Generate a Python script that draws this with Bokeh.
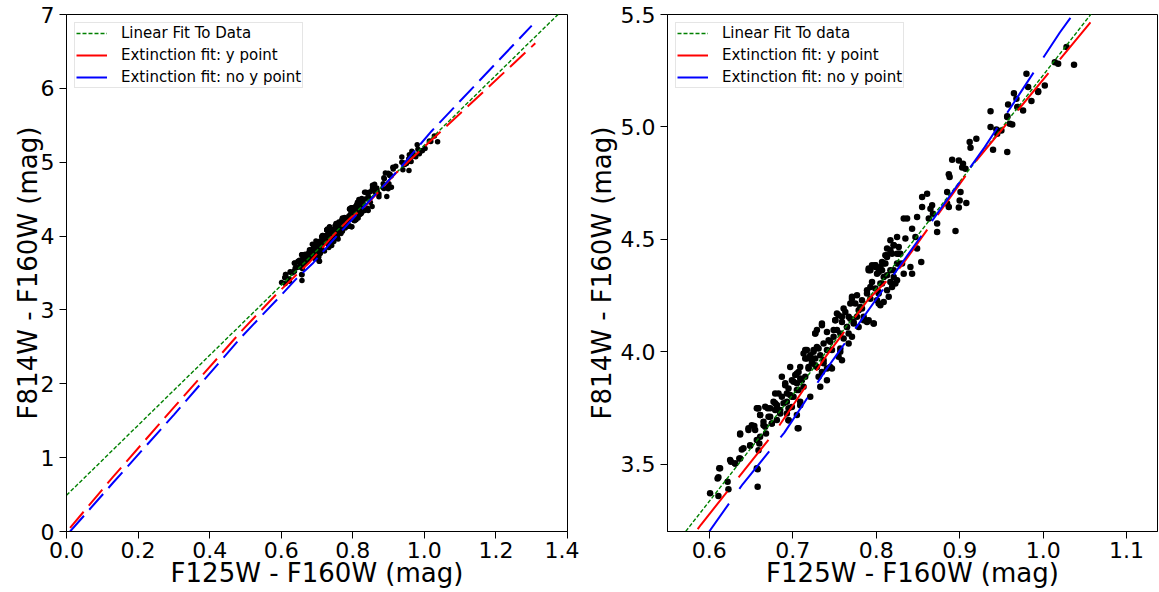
from bokeh.plotting import figure
from bokeh.layouts import row
from bokeh.models import FixedTicker, NumeralTickFormatter, Legend, LegendItem, Range1d
from bokeh.embed import file_html
from bokeh.resources import INLINE

# ---------------- data ----------------
pts = [
    (0.601, 3.370), (0.611, 3.358), (0.612, 3.481), (0.610, 3.436), (0.622, 3.421), (0.623, 3.388),
    (0.626, 3.510), (0.631, 3.503), (0.637, 3.632), (0.639, 3.565), (0.636, 3.525), (0.647, 3.659),
    (0.649, 3.581), (0.654, 3.669), (0.658, 3.477), (0.658, 3.399), (0.658, 3.748), (0.661, 3.718),
    (0.660, 3.592), (0.659, 3.562), (0.665, 3.673), (0.668, 3.636), (0.670, 3.748), (0.673, 3.710),
    (0.675, 3.681), (0.677, 3.777), (0.681, 3.762), (0.685, 3.740), (0.695, 3.748), (0.693, 3.725),
    (0.705, 3.718), (0.706, 3.659), (0.695, 3.695), (0.699, 3.754), (0.709, 3.777),
    (0.657, 3.748), (0.667, 3.755), (0.679, 3.814), (0.681, 3.762), (0.689, 3.770), (0.691, 3.851),
    (0.693, 3.814), (0.699, 3.799), (0.701, 3.866), (0.707, 3.829), (0.709, 3.762), (0.711, 3.873),
    (0.721, 3.799), (0.715, 4.007), (0.717, 3.970), (0.719, 3.925), (0.723, 3.962), (0.725, 4.007),
    (0.727, 3.940), (0.729, 4.021), (0.731, 3.888), (0.733, 3.844), (0.727, 4.081), (0.735, 4.125),
    (0.737, 3.962), (0.741, 3.925), (0.741, 3.873), (0.745, 3.932), (0.747, 4.007), (0.749, 4.096),
    (0.751, 4.140), (0.753, 4.170), (0.755, 3.977), (0.757, 4.081), (0.759, 4.155), (0.761, 4.192),
    (0.765, 4.110), (0.767, 4.155), (0.769, 4.214), (0.771, 4.236), (0.773, 4.132), (0.777, 4.251),
    (0.779, 4.184), (0.785, 4.155), (0.787, 4.140), (0.791, 4.140), (0.797, 4.125), (0.789, 4.273),
    (0.791, 4.362), (0.793, 4.288), (0.795, 4.310), (0.799, 4.384), (0.801, 4.229), (0.803, 4.214),
    (0.803, 4.266), (0.805, 4.303), (0.807, 4.362), (0.809, 4.332), (0.811, 4.392), (0.813, 4.421),
    (0.815, 4.244), (0.817, 4.362), (0.819, 4.288), (0.821, 4.332), (0.823, 4.303), (0.825, 4.392),
    (0.827, 4.436), (0.729, 4.096), (0.721, 3.977), (0.713, 3.992), (0.709, 3.932), (0.705, 3.903),
    (0.697, 3.932), (0.687, 3.888), (0.743, 4.051), (0.757, 4.014), (0.761, 4.059), (0.767, 4.036),
    (0.781, 4.199), (0.783, 4.229),
    (0.793, 4.362), (0.799, 4.384), (0.801, 4.347), (0.805, 4.377), (0.807, 4.399), (0.811, 4.429),
    (0.813, 4.459), (0.817, 4.496), (0.819, 4.436), (0.821, 4.473), (0.825, 4.510), (0.827, 4.466),
    (0.829, 4.436), (0.831, 4.392), (0.833, 4.347), (0.835, 4.503), (0.841, 4.377), (0.843, 4.347),
    (0.847, 4.510), (0.849, 4.459), (0.854, 4.399), (0.833, 4.592), (0.837, 4.592), (0.843, 4.547),
    (0.849, 4.599), (0.855, 4.644), (0.855, 4.688), (0.861, 4.703), (0.863, 4.592), (0.865, 4.636),
    (0.867, 4.651), (0.868, 4.614), (0.873, 4.570), (0.873, 4.532), (0.885, 4.659), (0.887, 4.644),
    (0.885, 4.710), (0.901, 4.710), (0.900, 4.673), (0.899, 4.641), (0.908, 4.661), (0.895, 4.537),
    (0.888, 4.777), (0.887, 4.789), (0.891, 4.854), (0.899, 4.851), (0.904, 4.836), (0.907, 4.814),
    (0.903, 4.819), (0.912, 4.933), (0.913, 4.907), (0.920, 4.947), (0.940, 4.898), (0.957, 4.888),
    (0.937, 5.070), (0.937, 4.999), (0.944, 4.988), (0.945, 4.970), (0.950, 4.984), (0.957, 5.044),
    (0.960, 5.014), (0.963, 5.011), (0.958, 5.100), (0.965, 5.150), (0.969, 5.088), (0.976, 5.073),
    (0.982, 5.177), (0.986, 5.115), (0.994, 5.155), (1.002, 5.184),
    (0.980, 5.236), (0.968, 5.125), (0.970, 5.088), (0.957, 5.047), (0.994, 5.159), (1.014, 5.288),
    (1.018, 5.281), (1.028, 5.355), (1.037, 5.276),
    # dense band
    (0.717, 4.007), (0.721, 3.984), (0.725, 4.000), (0.727, 3.970), (0.731, 4.014), (0.733, 3.984),
    (0.723, 3.948), (0.719, 3.932), (0.729, 3.932), (0.737, 4.036), (0.741, 4.007), (0.745, 4.044),
    (0.715, 3.970), (0.737, 3.948), (0.735, 3.910), (0.747, 3.925), (0.759, 3.962), (0.757, 4.000),
    (0.691, 3.859), (0.695, 3.836), (0.699, 3.873), (0.703, 3.896), (0.705, 3.859), (0.709, 3.881),
    (0.697, 3.807), (0.687, 3.799), (0.683, 3.814), (0.679, 3.770), (0.693, 3.777), (0.701, 3.799),
    (0.705, 3.829), (0.713, 3.844), (0.715, 3.888), (0.707, 3.910),
    (0.659, 3.748), (0.661, 3.718), (0.665, 3.688), (0.671, 3.710), (0.675, 3.681), (0.679, 3.740),
    (0.673, 3.748), (0.667, 3.666), (0.681, 3.696), (0.685, 3.725), (0.651, 3.673), (0.655, 3.651),
    (0.647, 3.651), (0.637, 3.636), (0.641, 3.570), (0.649, 3.584), (0.657, 3.607), (0.661, 3.621),
    (0.625, 3.518), (0.631, 3.503), (0.637, 3.525), (0.613, 3.481), (0.611, 3.441), (0.657, 3.481),
    (0.707, 3.659), (0.695, 3.695),
    (0.751, 4.140), (0.755, 4.162), (0.759, 4.132), (0.763, 4.177), (0.765, 4.110), (0.769, 4.147),
    (0.773, 4.125), (0.771, 4.066), (0.767, 4.081), (0.777, 4.155), (0.779, 4.110), (0.753, 4.096),
    (0.749, 4.066), (0.775, 4.214), (0.771, 4.244), (0.785, 4.140), (0.789, 4.132), (0.797, 4.125),
    (0.783, 4.192), (0.735, 4.118), (0.727, 4.081), (0.741, 4.088),
    (0.789, 4.259), (0.793, 4.236), (0.799, 4.281), (0.803, 4.259), (0.807, 4.303), (0.809, 4.221),
    (0.813, 4.273), (0.817, 4.310), (0.805, 4.207), (0.799, 4.377), (0.795, 4.384), (0.803, 4.355),
    (0.809, 4.392), (0.813, 4.340), (0.821, 4.362), (0.825, 4.318), (0.817, 4.451), (0.821, 4.473),
    (0.813, 4.429), (0.825, 4.436), (0.791, 4.370), (0.827, 4.392),
]
x_pts = [p[0] for p in pts]
y_pts = [p[1] for p in pts]

# linear fit to data: intercept and slope
lin_intercept = 0.49
lin_slope = 4.74
lin_x = [0.0, 1.45]
lin_y = [lin_intercept + lin_slope * v for v in lin_x]

# extinction fit with y point
red_x = [0.01, 0.13, 0.30, 0.49, 0.59, 0.68, 0.74, 0.79, 0.83, 0.92, 1.02, 1.10, 1.31]
red_y = [0.05, 0.74, 1.68, 2.72, 3.23, 3.65, 3.98, 4.23, 4.38, 4.85, 5.30, 5.66, 6.61]
# extinction fit without y point
blue_x = [0.01, 0.13, 0.30, 0.49, 0.60, 0.64, 0.69, 0.74, 0.83, 0.93, 1.02, 1.30]
blue_y = [0.00, 0.66, 1.58, 2.64, 3.20, 3.41, 3.64, 3.92, 4.39, 4.91, 5.42, 6.85]

labels = ["Linear Fit To Data", "Extinction fit: y point", "Extinction fit: no y point"]
labels_right = ["Linear Fit To data", "Extinction fit: y point", "Extinction fit: no y point"]

left_xticks = [0.0, 0.2, 0.4, 0.6, 0.8, 1.0, 1.2, 1.4]
left_yticks = [0, 1, 2, 3, 4, 5, 6, 7]
right_xticks = [0.6, 0.7, 0.8, 0.9, 1.0, 1.1]
right_yticks = [3.5, 4.0, 4.5, 5.0, 5.5]

FONT = "DejaVu Sans"
OFF = [-100.0, -99.0]  # off-screen samples used only for legend swatches


def make_fig(xr, yr, xt, yt, xfmt, yfmt, width, bl, br, ylab_standoff, dash, legend_labels, size):
    p = figure(width=width, height=592, x_range=Range1d(*xr), y_range=Range1d(*yr),
               output_backend="svg", toolbar_location=None,
               min_border_left=bl, min_border_right=br, min_border_top=14, min_border_bottom=61)
    p.grid.visible = False
    p.outline_line_color = "black"
    p.outline_line_width = 1
    p.background_fill_color = "white"
    for ax in (p.xaxis[0], p.yaxis[0]):
        ax.major_label_text_font = FONT
        ax.major_label_text_font_size = "22px"
        ax.major_label_text_color = "black"
        ax.axis_label_text_font = FONT
        ax.axis_label_text_font_size = "26px"
        ax.axis_label_text_font_style = "normal"
        ax.axis_label_text_color = "black"
        ax.major_tick_out = 7
        ax.major_tick_in = 0
        ax.minor_tick_out = 0
        ax.minor_tick_in = 0
        ax.axis_line_color = "black"
        ax.major_tick_line_color = "black"
    p.xaxis[0].ticker = FixedTicker(ticks=xt)
    p.yaxis[0].ticker = FixedTicker(ticks=yt)
    p.xaxis[0].formatter = NumeralTickFormatter(format=xfmt)
    p.yaxis[0].formatter = NumeralTickFormatter(format=yfmt)
    p.xaxis[0].axis_label = "F125W - F160W (mag)"
    p.yaxis[0].axis_label = "F814W - F160W (mag)"
    p.xaxis[0].major_label_standoff = 3
    p.xaxis[0].axis_label_standoff = -3
    p.yaxis[0].major_label_standoff = 5
    p.yaxis[0].axis_label_standoff = ylab_standoff

    p.scatter(x_pts, y_pts, size=size, color="black", line_width=0)
    p.line(lin_x, lin_y, line_color="#008000", line_width=1.4, line_dash="4 2")
    p.line(red_x, red_y, line_color="#ff0000", line_width=2, line_dash=dash)
    p.line(blue_x, blue_y, line_color="#0000ff", line_width=2, line_dash=dash)

    g = p.line(OFF, OFF, line_color="#008000", line_width=1.4, line_dash="4 2")
    r = p.line(OFF, OFF, line_color="#ff0000", line_width=2)
    b = p.line(OFF, OFF, line_color="#0000ff", line_width=2)
    leg = Legend(items=[LegendItem(label=legend_labels[0], renderers=[g]),
                        LegendItem(label=legend_labels[1], renderers=[r]),
                        LegendItem(label=legend_labels[2], renderers=[b])],
                 location="top_left")
    leg.margin = 8
    leg.padding = 1
    leg.spacing = 4
    leg.glyph_width = 31
    leg.glyph_height = 18
    leg.label_height = 18
    leg.label_standoff = 14
    leg.label_text_font = FONT
    leg.label_text_font_size = "15px"
    leg.label_text_color = "black"
    leg.border_line_color = "#cccccc"
    leg.border_line_width = 1
    leg.background_fill_alpha = 0.8
    p.add_layout(leg)
    return p


p1 = make_fig((0.0, 1.4), (0.0, 7.0), left_xticks, left_yticks, "0.0", "0",
              579, 66, 12, -5, "21 8", labels, 5.5)
p2 = make_fig((0.55, 1.137), (3.2, 5.5), right_xticks, right_yticks, "0.0", "0.0",
              579, 88, 1, 1, "48 18", labels_right, 6.5)

layout = row(p1, p2)
open("out.html", "w").write(file_html(layout, INLINE))
